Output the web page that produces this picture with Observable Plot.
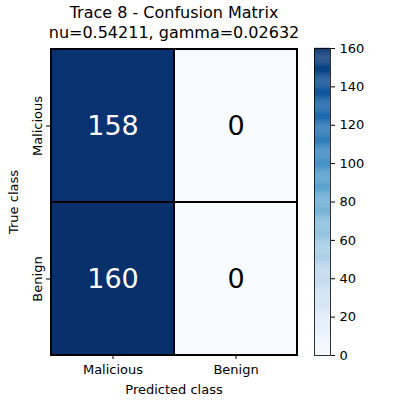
<!DOCTYPE html>
<html><head>
<script src="https://cdn.jsdelivr.net/npm/d3@7"></script>
<script src="https://cdn.jsdelivr.net/npm/@observablehq/plot@0.6"></script>
<style>
body{margin:0;background:#fff;font-family:"DejaVu Sans",sans-serif}
#wrap{position:relative;width:400px;height:400px}
#wrap > div{position:absolute;left:0;top:0}
.t{position:absolute;width:348px;text-align:center;font-size:16px;color:#000}
</style>
</head><body>
<div id="wrap">
  <div id="main"></div>
  <div id="bar"></div>
  <div class="t" style="top:3px">Trace 8 - Confusion Matrix</div>
  <div class="t" style="top:23px">nu=0.54211, gamma=0.02632</div>
</div>
<script>
const trueClass = ["Malicious", "Malicious", "Benign", "Benign"]
const predClass = ["Malicious", "Benign", "Malicious", "Benign"]
const counts = [158, 0, 160, 0]
const classes = ["Malicious", "Benign"]
const barTicks = [0, 20, 40, 60, 80, 100, 120, 140, 160]

const cells = counts.map((v, i) => ({t: trueClass[i], p: predClass[i], v}))
const color = {type: "linear", scheme: "blues", domain: [0, 160]}

let main = Plot.plot({
  width: 400, height: 400,
  marginLeft: 50, marginRight: 103, marginTop: 48, marginBottom: 45,
  style: {fontFamily: "DejaVu Sans", fontSize: "13px", background: "transparent"},
  x: {domain: classes, label: "Predicted class", labelAnchor: "center", labelOffset: 38, padding: 0, tickSize: 4},
  y: {domain: classes, label: "True class", labelAnchor: "center", labelOffset: 42, padding: 0, tickRotate: -90, tickSize: 4},
  color,
  marks: [
    Plot.cell(cells, {x: "p", y: "t", fill: "v", stroke: "black", strokeWidth: 2}),
    Plot.text(cells, {x: "p", y: "t", text: "v", fontSize: 27, fill: d => d.v > 80 ? "white" : "black"}),
    Plot.frame({stroke: "black", strokeWidth: 1})
  ]
})
d3.select('#main').append(() => main)

const slices = d3.range(0, 160, 0.5)
let bar = Plot.plot({
  width: 400, height: 400,
  marginLeft: 314, marginRight: 70, marginTop: 48, marginBottom: 45,
  style: {fontFamily: "DejaVu Sans", fontSize: "13px", background: "transparent"},
  x: {axis: null},
  y: {domain: [0, 160], ticks: barTicks, axis: "right", label: null, tickSize: 4},
  color,
  marks: [
    Plot.rect(slices, {x1: 0, x2: 1, y1: d => d, y2: d => d + 0.6, fill: d => d}),
    Plot.frame({stroke: "black", strokeWidth: 0.8})
  ]
})
d3.select('#bar').append(() => bar)
</script>
</body></html>
